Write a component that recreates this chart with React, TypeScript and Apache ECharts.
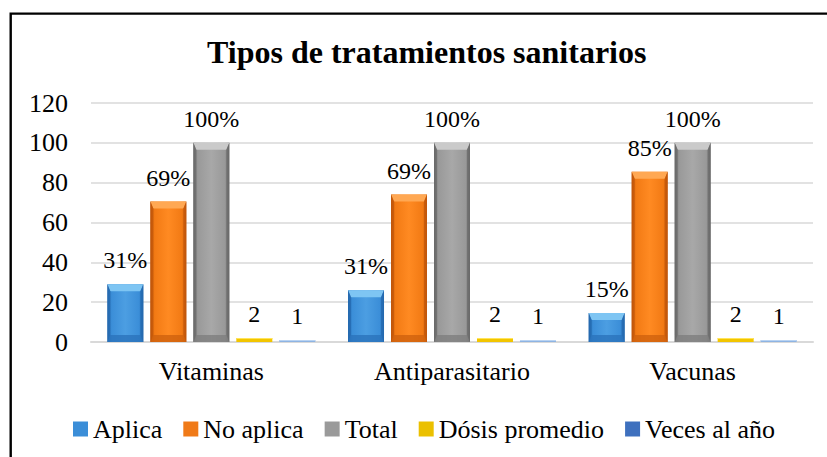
import React, { useEffect, useRef } from "react";
import * as echarts from "echarts";

const categories = ["Vitaminas", "Antiparasitario", "Vacunas"];
const seriesNames = ["Aplica", "No aplica", "Total", "Dósis promedio", "Veces al año"];
const aplica = [29, 26, 14.5];
const noAplica = [70.5, 74, 85.5];
const total = [100, 100, 100];
const dosis = [2, 2, 2];
const veces = [1, 1, 1];
const aplicaLabels = ["31%", "31%", "15%"];
const noAplicaLabels = ["69%", "69%", "85%"];
const totalLabels = ["100%", "100%", "100%"];
const dosisLabels = ["2", "2", "2"];
const vecesLabels = ["1", "1", "1"];
const yTicks = { min: 0, max: 120, interval: 20 };

const FONT = "Liberation Serif";

const palettes = [
  { main: "#3B8ED8", light: "#4C9EE2", edge: "#2468AE", top: "#7EC5F3", bottom: "#2A73BC", legend: "#3B8ED8" },
  { main: "#F27A14", light: "#FF8A22", edge: "#C0560A", top: "#FFA853", bottom: "#CF620E", legend: "#F07A18" },
  { main: "#999999", light: "#A8A8A8", edge: "#6A6A6A", top: "#CACACA", bottom: "#7E7E7E", legend: "#9A9A9A" },
  { main: "#F2C500", light: "#FFD21A", edge: "#C49E00", top: "#FFE45A", bottom: "#D0A800", legend: "#EBC000" },
  { main: "#8EB4E3", light: "#9CC0EA", edge: "#6F97CC", top: "#B9D3F2", bottom: "#7AA2D6", legend: "#3E70BE" },
];

const valueSets = [aplica, noAplica, total, dosis, veces];
const labelSets = [aplicaLabels, noAplicaLabels, totalLabels, dosisLabels, vecesLabels];

function makeRenderItem(si: number) {
  const p = palettes[si];
  return (params: any, api: any) => {
    const ci = api.value(0);
    const v = api.value(1);
    const base = api.coord([ci, 0]);
    const topPt = api.coord([ci, v]);
    const band = api.size([1, 0])[0];
    const bw = (band * 36) / 240.7;
    const gap = (band * 7) / 240.7;
    const cx = base[0] + (si - 2) * (bw + gap);
    const x0 = cx - bw / 2;
    const x1 = cx + bw / 2;
    const yTop = topPt[1];
    const yBase = base[1];
    const h = yBase - yTop;
    const children: any[] = [];
    const grad = new echarts.graphic.LinearGradient(0, 0, 1, 0, [
      { offset: 0, color: p.edge },
      { offset: 0.12, color: p.main },
      { offset: 0.5, color: p.light },
      { offset: 0.88, color: p.main },
      { offset: 1, color: p.edge },
    ]);
    children.push({
      type: "rect",
      shape: { x: x0, y: yTop, width: bw, height: h },
      style: { fill: h > 8 ? grad : p.main },
    });
    if (h > 8) {
      const t = Math.min(7, h / 2);
      const s = 3;
      children.push({
        type: "polygon",
        shape: { points: [[x0, yTop], [x1, yTop], [x1 - s, yTop + t], [x0 + s, yTop + t]] },
        style: { fill: p.top },
      });
      children.push({
        type: "polygon",
        shape: { points: [[x0, yBase], [x1, yBase], [x1 - s, yBase - t], [x0 + s, yBase - t]] },
        style: { fill: p.bottom, opacity: 0.8 },
      });
      children.push({
        type: "polygon",
        shape: { points: [[x0, yTop], [x0 + s, yTop + t], [x0 + s, yBase - t], [x0, yBase]] },
        style: { fill: p.edge, opacity: 0.7 },
      });
      children.push({
        type: "polygon",
        shape: { points: [[x1, yTop], [x1 - s, yTop + t], [x1 - s, yBase - t], [x1, yBase]] },
        style: { fill: p.edge, opacity: 0.7 },
      });
    } else {
      children.push({
        type: "rect",
        shape: { x: x0, y: yTop, width: bw, height: Math.min(1, h) },
        style: { fill: p.top },
      });
    }
    children.push({
      type: "text",
      x: cx,
      y: yTop - 24,
      style: {
        text: labelSets[si][ci],
        fill: "#000",
        fontSize: 24,
        fontFamily: FONT,
        align: "center",
        verticalAlign: "middle",
      },
    });
    return { type: "group", children };
  };
}

export default function App() {
  const ref = useRef<HTMLDivElement>(null);
  useEffect(() => {
    if (!ref.current) return;
    const chart = echarts.init(ref.current, null, { renderer: "svg" });
    const option: any = {
      animation: false,
      backgroundColor: "#fff",
      textStyle: { fontFamily: FONT },
      title: {
        text: "Tipos de tratamientos sanitarios",
        left: 207,
        top: 36,
        padding: 0,
        textStyle: { fontSize: 32, fontWeight: "bold", fontFamily: FONT, color: "#000" },
      },
      legend: {
        data: seriesNames,
        left: 73,
        top: 416,
        padding: 0,
        icon: "rect",
        itemWidth: 15,
        itemHeight: 15,
        itemGap: 21,
        textStyle: { fontSize: 26, fontFamily: FONT, color: "#000" },
      },
      grid: { left: 91, right: 14, top: 103, bottom: 115, containLabel: false },
      xAxis: {
        type: "category",
        data: categories,
        axisTick: { show: false },
        axisLine: { lineStyle: { color: "#D9D9D9", width: 2 } },
        axisLabel: { fontSize: 26, fontFamily: FONT, color: "#000", margin: 16 },
      },
      yAxis: {
        type: "value",
        min: yTicks.min,
        max: yTicks.max,
        interval: yTicks.interval,
        axisLine: { show: false },
        axisTick: { show: false },
        splitLine: { lineStyle: { color: "#D9D9D9", width: 1.5 } },
        axisLabel: { fontSize: 26, fontFamily: FONT, color: "#000", margin: 23 },
      },
      graphic: [
        {
          type: "rect",
          shape: { x: 10.7, y: 13.6, width: 900, height: 600 },
          style: { fill: "none", stroke: "#000", lineWidth: 2.4 },
          z: 100,
        },
      ],
      series: seriesNames.map((name, si) => ({
        name,
        type: "custom",
        renderItem: makeRenderItem(si),
        itemStyle: { color: palettes[si].legend },
        encode: { x: 0, y: 1 },
        data: valueSets[si].map((v, ci) => [ci, v]),
      })),
    };
    chart.setOption(option);
    return () => chart.dispose();
  }, []);
  return (
    <div
      ref={ref}
      style={{ position: "fixed", left: 0, top: 0, width: 827, height: 457 }}
    />
  );
}
